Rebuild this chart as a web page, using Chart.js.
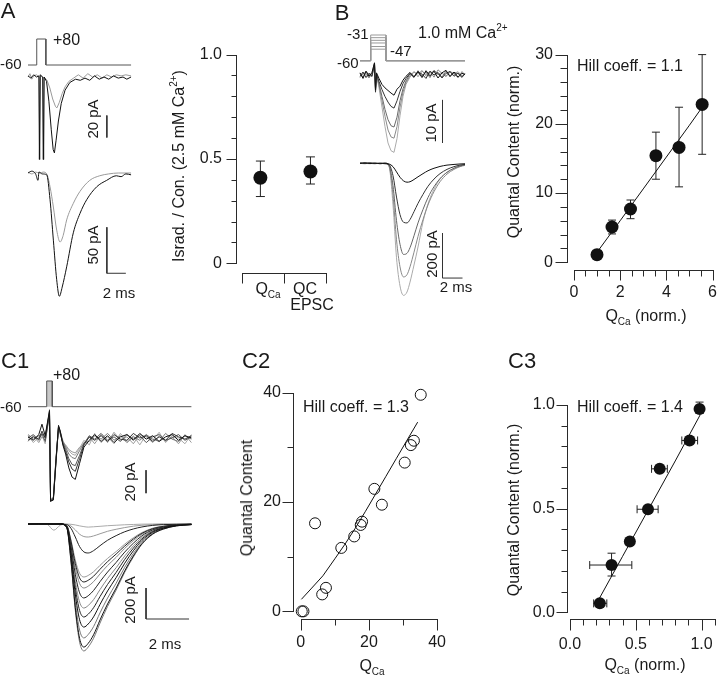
<!DOCTYPE html>
<html lang="en">
<head>
<meta charset="utf-8">
<title>Quantal content vs Ca charge</title>
<script src="https://cdn.jsdelivr.net/npm/chart.js@4.4.1/dist/chart.umd.min.js"></script>
<style>
  html, body { margin: 0; padding: 0; background: #fff; }
  #fig { position: relative; width: 720px; height: 676px; overflow: hidden; background: #fff;
         font-family: 'Liberation Sans', Arial, Helvetica, sans-serif; color: #1a1a1a; }
  #fig canvas { position: absolute; }
  .t { position: absolute; white-space: nowrap; line-height: 1; font-size: 16px; }
  .c { transform: translate(-50%, -50%); }
  .l { transform: translate(0, -50%); }
  .r { transform: translate(-50%, -50%) rotate(-90deg); }
  .s15 { font-size: 15px; }
  .big { font-size: 22px; }
  .sub { font-size: 10px; position: relative; top: 4px; }
  .sup { font-size: 10px; position: relative; top: -7px; }
</style>
</head>
<body>
<div id="fig">
  <canvas id="cAtr" width="150" height="310" style="left:0;top:0"></canvas>
  <canvas id="cAsc" width="145" height="280" style="left:190px;top:30px"></canvas>
  <canvas id="cBtr" width="115" height="310" style="left:355px;top:0"></canvas>
  <canvas id="cBsc" width="210" height="280" style="left:520px;top:30px"></canvas>
  <canvas id="cC1" width="175" height="305" style="left:20px;top:355px"></canvas>
  <canvas id="cC2" width="210" height="290" style="left:250px;top:370px"></canvas>
  <canvas id="cC3" width="210" height="290" style="left:520px;top:370px"></canvas>

  <!-- panel letters -->
  <div class="t c big" style="left:8px;top:11px">A</div>
  <div class="t c big" style="left:342px;top:13px">B</div>
  <div class="t l big" style="left:1px;top:361px">C1</div>
  <div class="t l big" style="left:242px;top:361px">C2</div>
  <div class="t l big" style="left:508px;top:361px">C3</div>

  <!-- A traces -->
  <div class="t l" style="left:53px;top:40px">+80</div>
  <div class="t l s15" style="left:0;top:63px">-60</div>
  <div class="t r s15" style="left:92px;top:119px">20 pA</div>
  <div class="t r s15" style="left:92px;top:245px">50 pA</div>
  <div class="t c s15" style="left:119px;top:292px">2 ms</div>

  <!-- A scatter -->
  <div class="t r" style="left:179px;top:166px">Israd. / Con. (2.5 mM Ca<span class="sup">2+</span>)</div>
  <div class="t c" style="left:268px;top:289px">Q<span class="sub">Ca</span></div>
  <div class="t c" style="left:305px;top:289px">QC</div>
  <div class="t c" style="left:312px;top:305px">EPSC</div>

  <!-- B traces -->
  <div class="t l s15" style="left:347px;top:33px">-31</div>
  <div class="t l s15" style="left:337px;top:62px">-60</div>
  <div class="t l s15" style="left:390px;top:50px">-47</div>
  <div class="t l" style="left:418px;top:33px">1.0 mM Ca<span class="sup">2+</span></div>
  <div class="t r s15" style="left:430px;top:123px">10 pA</div>
  <div class="t r s15" style="left:431px;top:254px">200 pA</div>
  <div class="t c s15" style="left:456px;top:286px">2 ms</div>

  <!-- B scatter -->
  <div class="t l" style="left:577px;top:66px">Hill coeff. = 1.1</div>
  <div class="t r" style="left:514px;top:152px">Quantal Content (norm.)</div>
  <div class="t c" style="left:646px;top:316px">Q<span class="sub">Ca</span> (norm.)</div>

  <!-- C1 -->
  <div class="t l" style="left:53px;top:375px">+80</div>
  <div class="t l s15" style="left:0;top:406px">-60</div>
  <div class="t r s15" style="left:129px;top:482px">20 pA</div>
  <div class="t r s15" style="left:129px;top:600px">200 pA</div>
  <div class="t c s15" style="left:165px;top:643px">2 ms</div>

  <!-- C2 -->
  <div class="t l" style="left:303px;top:407px">Hill coeff. = 1.3</div>
  <div class="t r" style="left:247px;top:498px">Quantal Content</div>
  <div class="t c" style="left:372px;top:666px">Q<span class="sub">Ca</span></div>

  <!-- C3 -->
  <div class="t l" style="left:577px;top:407px">Hill coeff. = 1.4</div>
  <div class="t r" style="left:514px;top:510px">Quantal Content (norm.)</div>
  <div class="t c" style="left:645px;top:665px">Q<span class="sub">Ca</span> (norm.)</div>
</div>

<script>
// ======================= DATA =======================
// ---- Panel A: voltage step (mV) and traces (pA) vs time (ms)
const protA_t  = [0, 0.92, 0.92, 1.88, 1.88, 10.85];
const protA_mV = [-60, -60, 80, 80, -60, -60];

const caA_black_t = [0,0.3,0.6,0.9,1.15,1.2,1.28,1.55,1.62,1.7,1.95,2.2,2.45,2.65,2.78,2.95,3.2,3.5,3.9,4.4,5.0,5.5,6.0,6.5,7.0,7.5,8.0,8.5,9.0,9.5,10.0,10.4,10.85];
const caA_black   = [1,-1,2,0,1,-75,2,0,-75,0,-4,-22,-48,-66,-69,-58,-40,-24,-12,-5,-2,-3,-1,-3,1,-2,0,-2,1,-1,0,-2,0];
const caA_gray_t  = [0,0.2,0.4,0.6,0.9,1.15,1.25,1.32,1.55,1.6,1.68,2.0,2.3,2.6,2.9,3.05,3.3,3.6,3.9,4.3,4.8,5.3,5.8,6.3,6.8,7.3,7.8,8.3,8.8,9.3,9.8,10.3,10.85];
const caA_gray    = [0,3,-2,1,2,0,-75,1,0,-75,0,-3,-10,-20,-27,-28,-23,-15,-9,-4,-1,2,-1,3,0,2,-1,2,0,2,1,2,1];

const epA_black_t = [0,0.4,0.8,1.05,1.15,1.5,1.97,2.32,2.67,3.02,3.3,3.6,4.07,4.77,5.47,6.18,7.23,8.28,9.3,9.8,10.3,10.85];
const epA_black   = [0,2,-1,-8,1,-1,-2,-29,-73,-116,-134,-124,-102,-65,-44,-29,-15,-8,-3,-4,-1,-2];
const epA_gray_t  = [0,0.4,0.8,1.2,1.6,1.97,2.32,2.67,3.02,3.37,3.7,4.07,4.77,5.47,6.5,7.55,8.5,9.5,10.85];
const epA_gray    = [1,-1,1,0,1,-1,-15,-37,-62,-75,-68,-51,-33,-20,-8,-3,-1,0,0];

// scale bars (pA / ms)
const barA = { t: 8.3, caTop: -35, ca: 20, epTop: -59, ep: 50, ms: 2 };

// ---- Panel A scatter: Isradipine / control ratio
const catsA      = ['QCa', 'QC EPSC'];
const catPosA    = [0.44, 1.63];
const ratioA     = [0.41, 0.44];
const ratioA_lo  = [0.32, 0.38];
const ratioA_hi  = [0.49, 0.51];
const yTicksA    = [0, 0.5, 1.0];
const yLabelsA   = ['0', '0.5', '1.0'];

// ---- Panel B: steps to -31 ... -47 mV in 1.0 mM Ca
const protB_t      = [0, 1.07, 1.07, 2.6, 2.6, 10.5];
const protB_levels = [-31, -34, -37, -40, -44, -47];

const caB_t = [0,0.3,0.6,0.9,1.2,1.45,1.55,1.65,1.9,2.2,2.5,2.8,3.1,3.4,3.7,4.0,4.3,4.6,5.0,5.4,5.8,6.2,6.6,7.0,7.4,7.8,8.2,8.6,9.0,9.4,9.8,10.2,10.5];
const caB_1 = [0.5,-0.8,0.9,-0.3,0.6,2.8,-3.5,0.5,-0.8,-2.2,-3.0,-3.6,-4.2,-4.7,-3.3,-2.6,-1.2,-0.3,0.6,-0.4,0.8,-0.6,1.0,-0.2,0.9,-0.7,0.5,1.1,-0.4,0.7,-0.5,0.4,0.1];
const caB_2 = [-0.3,0.7,-0.6,0.4,-0.2,2.5,-4.0,0.2,-1.5,-3.4,-5.0,-6.3,-7.3,-7.7,-6.0,-3.8,-2.0,-0.8,0.4,-0.5,0.7,0.2,-0.8,0.9,0.0,0.6,-0.7,0.4,0.8,-0.3,0.5,-0.4,0.2];
const caB_3 = [0.4,-0.5,0.8,0.1,-0.4,2.6,-3.8,0.0,-2.0,-5.0,-8.0,-10.4,-11.8,-12.1,-9.8,-6.0,-3.2,-1.4,0.3,-0.6,1.0,-0.3,0.7,-0.6,1.1,0.2,-0.5,0.9,-0.2,0.6,0.3,-0.6,0.4];
const caB_4 = [-0.6,0.3,0.2,-0.7,0.5,2.9,-3.2,-0.2,-2.4,-6.0,-9.6,-12.8,-14.4,-14.7,-12.0,-7.5,-4.0,-1.8,-0.2,0.8,-0.4,0.9,0.1,0.8,-0.5,1.2,0.4,-0.3,0.9,0.2,-0.6,0.8,0.0];
const caB_5 = [-0.2,0.4,0.6,-0.5,0.3,2.7,-3.0,0.1,-3.0,-7.5,-12.0,-15.8,-17.6,-18.0,-14.8,-9.5,-5.0,-2.2,-0.5,0.7,0.2,1.1,-0.3,0.5,0.9,0.1,0.6,-0.4,0.7,0.3,0.8,-0.2,0.3];

const epB_t = [0,0.5,1.0,1.5,2.0,2.5,2.9,3.3,3.65,4.0,4.35,4.7,5.0,5.4,5.8,6.3,6.8,7.4,8.0,8.7,9.4,10.0,10.5];
const epB_1 = [0,2,-1,1,-2,0,-3,-15,-38,-62,-78,-84,-82,-72,-60,-46,-33,-22,-14,-8,-5,-3,-2];
const epB_2 = [1,-1,2,-1,0,-2,-6,-55,-150,-228,-262,-265,-250,-215,-178,-138,-102,-70,-46,-27,-15,-8,-5];
const epB_3 = [-1,2,0,-2,1,0,-9,-100,-255,-360,-405,-400,-375,-322,-265,-205,-152,-104,-68,-40,-22,-12,-7];
const epB_4 = [0,-2,1,0,-1,2,-12,-140,-340,-460,-505,-495,-460,-395,-325,-250,-185,-126,-82,-48,-27,-15,-9];
const epB_5 = [1,0,-2,1,0,-1,-15,-185,-420,-545,-587,-572,-528,-452,-372,-260,-180,-115,-70,-40,-22,-12,-6];

const barB = { t: 8.25, caTop: -5.8, ca: 10, epTop: -310, ep: 200, ms: 2 };

// ---- Panel B scatter
const qcaB    = [1.0, 1.65, 2.45, 3.55, 4.55, 5.55];
const qcB     = [1.1, 5.1, 7.7, 15.4, 16.6, 22.8];
const qcB_lo  = [0.8, 4.1, 6.3, 12.0, 10.9, 15.6];
const qcB_hi  = [1.4, 6.1, 9.0, 18.8, 22.4, 30.0];
const fitB_x  = [0.99, 2.0, 3.0, 4.0, 5.0, 5.53];
const fitB_y  = [1.4, 6.0, 10.6, 15.2, 19.8, 22.3];
const xTicksB = [0, 2, 4, 6],   xLabelsB = ['0', '2', '4', '6'];
const yTicksB = [0, 10, 20, 30], yLabelsB = ['0', '10', '20', '30'];

// ---- Panel C1
const protC_t  = [0, 0.87, 0.87, 1.13, 1.13, 7.6];
const protC_mV = [-60, -60, 80, 80, -60, -60];

const caC_t = [0,0.25,0.5,0.65,0.8,1.0,1.05,1.18,1.3,1.42,1.5,1.62,1.75,1.9,2.05,2.2,2.4,2.6,2.85,3.1,3.4,3.7,4.0,4.3,4.6,4.9,5.2,5.5,5.8,6.1,6.4,6.7,7.0,7.3,7.6];
const caC_1 = [1,-2,3,12,2,24,-55,-54,-20,11,6,-6,-14,-26,-34,-36,-22,-8,-2,3,-3,2,-4,1,3,-2,4,-1,2,-3,1,3,-2,2,0];
const caC_2 = [-2,1,-1,6,0,22,-55,-53,-22,10,5,-5,-12,-21,-27,-29,-18,-6,1,-2,2,-3,3,-1,-2,4,0,2,-3,1,-2,4,1,-1,2];
const caC_3 = [0,3,-2,4,-3,20,-54,-52,-18,9,4,-4,-10,-18,-23,-24,-15,-5,2,-1,4,-2,1,-3,3,-1,2,-4,1,3,-2,0,3,-2,1];
const caC_4 = [3,-1,2,3,1,23,-55,-53,-21,10,5,-3,-8,-14,-17,-18,-11,-4,-3,2,-1,4,-2,2,-4,1,-2,3,-1,-3,4,-1,-3,2,-1];
const caC_5 = [-3,2,-4,1,-2,21,-54,-51,-19,9,3,-4,-6,-10,-12,-13,-8,-6,1,-5,3,-4,5,-2,1,-5,3,1,-4,2,-3,1,-5,3,-4];
const caC_6 = [2,-4,1,2,-5,25,-55,-52,-20,10,6,-2,-7,-11,-14,-15,-9,-2,-6,4,-4,1,-5,4,-3,2,-6,3,-2,5,-4,2,0,-5,3];

const epC_t  = [0,0.5,0.9,1.2,1.5,1.8,2.0,2.2,2.4,2.6,2.8,3.05,3.35,3.7,4.1,4.5,4.9,5.3,5.8,6.3,6.9,7.6];
const epC_1  = [0,2,-3,-40,-8,0,-2,-6,-12,-17,-20,-18,-15,-11,-8,-5,-3,-1,0,1,-1,0];
const epC_2  = [1,-2,2,-1,0,-2,-13,-38,-66,-81,-84,-77,-63,-47,-34,-23,-14,-8,-4,-2,-1,0];
const epC_3  = [0,1,-2,2,-1,-4,-28,-84,-146,-180,-187,-172,-140,-105,-75,-50,-32,-19,-9,-4,-2,0];
const epC_4  = [-2,1,0,2,-1,-10,-103,-233,-318,-342,-332,-308,-267,-222,-178,-130,-89,-55,-27,-14,-5,-2];
const epC_5  = [1,-1,2,0,-2,-11,-112,-254,-348,-374,-363,-337,-292,-243,-194,-142,-97,-60,-30,-15,-6,-2];
const epC_6  = [0,2,-1,1,0,-12,-124,-281,-384,-413,-401,-372,-322,-268,-215,-157,-107,-66,-33,-17,-6,-2];
const epC_7  = [-1,0,1,-2,1,-14,-143,-324,-444,-477,-463,-429,-372,-310,-248,-181,-124,-76,-38,-19,-7,-2];
const epC_8  = [2,-1,0,1,-1,-16,-163,-369,-504,-542,-526,-488,-423,-352,-282,-206,-141,-87,-43,-22,-8,-3];
const epC_9  = [0,1,-2,0,2,-18,-180,-408,-558,-600,-582,-540,-468,-390,-312,-228,-156,-96,-48,-24,-9,-3];
const epC_10 = [-1,2,0,-1,0,-20,-200,-452,-618,-665,-645,-599,-519,-432,-346,-253,-173,-106,-53,-27,-10,-3];
const epC_11 = [1,0,-1,2,-1,-22,-221,-500,-684,-735,-713,-662,-573,-478,-382,-279,-191,-118,-59,-29,-11,-4];
const epC_12 = [0,-1,2,0,1,-24,-238,-540,-738,-794,-770,-715,-619,-516,-413,-302,-206,-127,-64,-32,-12,-4];
const epC_13 = [-1,1,0,-2,0,-25,-246,-557,-762,-819,-794,-737,-639,-532,-426,-311,-213,-131,-66,-33,-12,-4];

const barC1 = { t: 5.49, caTop: -28, ca: 20, epTop: -413, ep: 200, ms: 2 };

// ---- Panel C2 scatter (individual cells)
const qcaC2 = [0.3, 0.8, 4.2, 6.3, 7.4, 11.9, 15.7, 17.6, 18.0, 21.6, 23.8, 30.5, 32.3, 33.2, 35.2];
const qcC2  = [0, 0, 16.1, 3.1, 4.3, 11.6, 13.7, 15.8, 16.4, 22.4, 19.5, 27.2, 30.4, 31.2, 39.6];
const fitC2_x = [0.2, 3, 6.5, 10, 13, 16, 19, 22, 25, 28, 31, 34.3];
const fitC2_y = [2.2, 4.1, 6.5, 9.6, 12.3, 15.2, 18.3, 21.5, 24.7, 27.9, 31.1, 34.6];
const xTicksC2 = [0, 20, 40], xLabelsC2 = ['0', '20', '40'];
const yTicksC2 = [0, 20, 40], yLabelsC2 = ['0', '20', '40'];

// ---- Panel C3 scatter (normalized, mean +/- SEM)
const qcaC3    = [0.227, 0.316, 0.455, 0.593, 0.682, 0.909, 0.985];
const qcC3     = [0.043, 0.228, 0.341, 0.497, 0.692, 0.829, 0.981];
const qcaC3_lo = [0.18, 0.15, null, 0.51, 0.62, 0.85, null];
const qcaC3_hi = [0.28, 0.47, null, 0.67, 0.74, 0.97, null];
const qcC3_lo  = [null, 0.175, null, null, null, null, 0.96];
const qcC3_hi  = [null, 0.285, null, null, null, null, 1.014];
const fitC3_x  = [0.22, 0.4, 0.6, 0.8, 0.99];
const fitC3_y  = [0.063, 0.27, 0.50, 0.73, 0.953];
const xTicksC3 = [0, 0.5, 1.0], xLabelsC3 = ['0.0', '0.5', '1.0'];
const yTicksC3 = [0, 0.5, 1.0], yLabelsC3 = ['0.0', '0.5', '1.0'];

// ======================= HELPERS =======================
const FONT = "'Liberation Sans', Arial, Helvetica, sans-serif";
Chart.defaults.font.family = FONT;
Chart.defaults.color = '#1a1a1a';

const xy = (t, v) => t.map((tt, i) => ({ x: tt, y: v[i] }));
function steps(a, b, step) { const o = []; for (let k = 0; a + k * step <= b + 1e-9; k++) o.push(+(a + k * step).toFixed(6)); return o; }

// calibration of hidden axes: value v0 sits at pixel p0 of the canvas, ppu pixels per unit
function calY(v0, p0, ppu, size) { return { min: v0 - (size - p0) / ppu, max: v0 + p0 / ppu }; }
function calX(p0, ppu, size) { const min = -p0 / ppu; return { min, max: min + size / ppu }; }

function tr(t, v, color, axis, smooth, extra) {
  return Object.assign({
    data: xy(t, v), borderColor: color, borderWidth: 1, yAxisID: axis,
    pointRadius: 0, tension: 0, fill: false,
    cubicInterpolationMode: smooth ? 'monotone' : 'default'
  }, extra || {});
}
function bars(b, col) {
  return [
    tr([b.t, b.t], [b.caTop, b.caTop - b.ca], col, 'yC', false),
    tr([b.t, b.t, b.t + b.ms], [b.epTop, b.epTop - b.ep, b.epTop - b.ep], col, 'yE', false)
  ];
}

function traceChart(id, cal, datasets) {
  const el = document.getElementById(id);
  const W = el.width, H = el.height;
  const scales = { x: Object.assign({ type: 'linear', display: false }, calX(cal.x[0], cal.x[1], W)) };
  ['yP', 'yC', 'yE'].forEach(k => {
    scales[k] = Object.assign({ type: 'linear', axis: 'y', display: false }, calY(cal[k][0], cal[k][1], cal[k][2], H));
  });
  return new Chart(el, {
    type: 'line',
    data: { datasets },
    options: {
      responsive: false, animation: false, devicePixelRatio: 1, events: [],
      layout: { padding: 0 },
      plugins: { legend: { display: false }, tooltip: { enabled: false } },
      elements: { point: { radius: 0 } },
      scales
    }
  });
}

// Igor-style detached axes: line over data range, major + minor ticks outward
const igorAxes = {
  id: 'igorAxes',
  beforeDatasetsDraw(chart, args, opts) {
    const ctx = chart.ctx, ca = chart.chartArea;
    ctx.save();
    ctx.strokeStyle = '#2a2a2a';
    ctx.lineWidth = 1;
    ['x', 'y'].forEach(key => {
      const a = opts[key]; if (!a) return;
      const s = chart.scales[key];
      const horiz = key === 'x';
      const base = horiz ? Math.round(ca.bottom) + 0.5 : Math.round(ca.left) - 0.5;
      const P = v => Math.round(s.getPixelForValue(v)) + 0.5;
      ctx.beginPath();
      if (horiz) { ctx.moveTo(P(a.line[0]) - 0.5, base); ctx.lineTo(P(a.line[1]) + 0.5, base); }
      else { ctx.moveTo(base, P(a.line[0]) + 0.5); ctx.lineTo(base, P(a.line[1]) - 0.5); }
      const tick = (v, len) => {
        const p = P(v);
        if (horiz) { ctx.moveTo(p, base); ctx.lineTo(p, base + len); }
        else { ctx.moveTo(base, p); ctx.lineTo(base - len, p); }
      };
      const minor = a.minorStep ? steps(a.line[0], a.line[1], a.minorStep) : (a.minor || []);
      minor.forEach(v => tick(v, a.minorLen));
      (a.major || []).forEach(v => tick(v, a.majorLen));
      ctx.stroke();
    });
    ctx.restore();
  }
};

const errorBars = {
  id: 'errorBars',
  beforeDatasetsDraw(chart, args, opts) {
    const ctx = chart.ctx, xs = chart.scales.x, ys = chart.scales.y, c = opts.cap || 4;
    ctx.save(); ctx.strokeStyle = '#222'; ctx.lineWidth = 1;
    chart.data.datasets.forEach(ds => {
      const e = ds.errors; if (!e) return;
      ds.data.forEach((d, i) => {
        const px = xs.getPixelForValue(d.x), py = ys.getPixelForValue(d.y);
        ctx.beginPath();
        if (e.yLo && e.yLo[i] != null) {
          const a = ys.getPixelForValue(e.yLo[i]), b = ys.getPixelForValue(e.yHi[i]);
          ctx.moveTo(px, a); ctx.lineTo(px, b);
          ctx.moveTo(px - c, a); ctx.lineTo(px + c, a);
          ctx.moveTo(px - c, b); ctx.lineTo(px + c, b);
        }
        if (e.xLo && e.xLo[i] != null) {
          const a = xs.getPixelForValue(e.xLo[i]), b = xs.getPixelForValue(e.xHi[i]);
          ctx.moveTo(a, py); ctx.lineTo(b, py);
          ctx.moveTo(a, py - c); ctx.lineTo(a, py + c);
          ctx.moveTo(b, py - c); ctx.lineTo(b, py + c);
        }
        ctx.stroke();
      });
    });
    ctx.restore();
  }
};

function mkScale(s) {
  return {
    type: 'linear', min: s.min, max: s.max, display: s.show !== false,
    grid: { display: false, drawTicks: false }, border: { display: false },
    ticks: {
      autoSkip: false, maxRotation: 0, padding: s.pad || 0,
      font: { family: FONT, size: 16 }, color: '#1a1a1a',
      callback: (v, i) => (s.labels ? s.labels[i] : '')
    },
    afterBuildTicks: sc => { sc.ticks = (s.vals || []).map(v => ({ value: v })); },
    afterFit: sc => { if (sc.isHorizontal()) sc.height = s.size; else sc.width = s.size; }
  };
}

function scatterChart(id, o) {
  return new Chart(document.getElementById(id), {
    type: 'scatter',
    data: { datasets: o.datasets },
    options: {
      responsive: false, animation: false, devicePixelRatio: 1, events: [],
      layout: { padding: o.pad },
      plugins: { legend: { display: false }, tooltip: { enabled: false }, igorAxes: o.axes, errorBars: { cap: o.cap } },
      scales: { x: mkScale(o.x), y: mkScale(o.y) }
    },
    plugins: [igorAxes, errorBars]
  });
}
const dot = (r) => ({ pointRadius: r, backgroundColor: '#111', borderColor: '#111', borderWidth: 0, clip: false, order: 0 });
const fitLine = (x, y) => ({ data: xy(x, y), showLine: true, pointRadius: 0, borderColor: '#111', borderWidth: 1, order: 1, clip: false });

// ======================= PANEL A =======================
traceChart('cAtr', { x: [28, 9.5], yP: [-60, 65, 26 / 140], yC: [0, 77, 1.1], yE: [0, 173, 0.92] }, [
  ...bars(barA, '#333'),
  tr(caA_black_t, caA_black, '#111', 'yC', false),
  tr(caA_gray_t, caA_gray, '#9a9a9a', 'yC', false),
  tr(epA_black_t, epA_black, '#111', 'yE', true),
  tr(epA_gray_t, epA_gray, '#9a9a9a', 'yE', true),
  tr(protA_t, protA_mV, '#555', 'yP', false)
]);

scatterChart('cAsc', {
  pad: { left: 0, top: 17, right: 5, bottom: 37 },
  cap: 4.5,
  x: { min: -0.116, max: 2.047, show: false, size: 0 },
  y: { min: -0.0463, max: 1.0, vals: yTicksA, labels: yLabelsA, pad: 15, size: 47 },
  axes: {
    x: { line: [0, 2], major: [0, 1, 2], majorLen: 10 },
    y: { line: [0, 1], major: yTicksA, majorLen: 10, minorStep: 0.1, minorLen: 5 }
  },
  datasets: [Object.assign({ label: catsA.join(' / '), data: xy(catPosA, ratioA), errors: { yLo: ratioA_lo, yHi: ratioA_hi } }, dot(7))]
});

// ======================= PANEL B =======================
const protB_sets = protB_levels.map(L => tr(protB_t, [-60, -60, L, L, -60, -60], '#999', 'yP', false));
traceChart('cBtr', { x: [5, 10], yP: [-60, 60.7, 0.886], yC: [0, 75, 4.3], yE: [0, 163.3, 0.225] }, [
  ...bars(barB, '#333'),
  tr(caB_t, caB_1, '#111', 'yC', false),
  tr(caB_t, caB_2, '#333', 'yC', false),
  tr(caB_t, caB_3, '#6a6a6a', 'yC', false),
  tr(caB_t, caB_4, '#8a8a8a', 'yC', false),
  tr(caB_t, caB_5, '#ababab', 'yC', false),
  tr(epB_t, epB_1, '#111', 'yE', true),
  tr(epB_t, epB_2, '#333', 'yE', true),
  tr(epB_t, epB_3, '#666', 'yE', true),
  tr(epB_t, epB_4, '#888', 'yE', true),
  tr(epB_t, epB_5, '#aaa', 'yE', true),
  ...protB_sets
]);

scatterChart('cBsc', {
  pad: { left: 0, top: 16, right: 15, bottom: 0 },
  cap: 4,
  x: { min: -0.255, max: 6, vals: xTicksB, labels: xLabelsB, pad: 13, size: 40 },
  y: { min: -1.11, max: 30, vals: yTicksB, labels: yLabelsB, pad: 15, size: 48 },
  axes: {
    x: { line: [0, 6], major: xTicksB, majorLen: 10, minorStep: 0.5, minorLen: 6 },
    y: { line: [0, 30], major: yTicksB, majorLen: 12, minorStep: 2, minorLen: 7 }
  },
  datasets: [
    Object.assign({ data: xy(qcaB, qcB), errors: { yLo: qcB_lo, yHi: qcB_hi } }, dot(6.5)),
    fitLine(fitB_x, fitB_y)
  ]
});

// ======================= PANEL C1 =======================
traceChart('cC1', { x: [8, 21.5], yP: [-60, 51.7, 0.1836], yC: [0, 83, 1.15], yE: [0, 169, 0.155] }, [
  ...bars(barC1, '#333'),
  tr(caC_t, caC_1, '#111', 'yC', false),
  tr(caC_t, caC_2, '#333', 'yC', false),
  tr(caC_t, caC_3, '#555', 'yC', false),
  tr(caC_t, caC_4, '#777', 'yC', false),
  tr(caC_t, caC_5, '#999', 'yC', false),
  tr(caC_t, caC_6, '#aaa', 'yC', false),
  tr(epC_t, epC_12, '#111', 'yE', true),
  tr(epC_t, epC_10, '#111', 'yE', true),
  tr(epC_t, epC_9, '#222', 'yE', true),
  tr(epC_t, epC_7, '#222', 'yE', true),
  tr(epC_t, epC_5, '#222', 'yE', true),
  tr(epC_t, epC_3, '#222', 'yE', true),
  tr(epC_t, epC_13, '#777', 'yE', true),
  tr(epC_t, epC_11, '#777', 'yE', true),
  tr(epC_t, epC_8, '#888', 'yE', true),
  tr(epC_t, epC_6, '#888', 'yE', true),
  tr(epC_t, epC_4, '#999', 'yE', true),
  tr(epC_t, epC_2, '#999', 'yE', true),
  tr(epC_t, epC_1, '#aaa', 'yE', true),
  tr(protC_t, protC_mV, '#555', 'yP', false, { fill: { value: -60 }, backgroundColor: '#c8c8c8' })
]);

// ======================= PANEL C2 =======================
scatterChart('cC2', {
  pad: { left: 0, top: 13, right: 17, bottom: 0 },
  cap: 4,
  x: { min: -1.97, max: 40, vals: xTicksC2, labels: xLabelsC2, pad: 14, size: 41 },
  y: { min: -1.40, max: 40, vals: yTicksC2, labels: yLabelsC2, pad: 13, size: 44 },
  axes: {
    x: { line: [0, 40], major: xTicksC2, majorLen: 11, minor: [10, 30], minorLen: 6 },
    y: { line: [0, 40], major: yTicksC2, majorLen: 11, minor: [10, 30], minorLen: 6 }
  },
  datasets: [
    { data: xy(qcaC2, qcC2), pointRadius: 5.5, pointBorderWidth: 1, borderColor: '#111', backgroundColor: 'rgba(0,0,0,0)', clip: false, order: 0 },
    fitLine(fitC2_x, fitC2_y)
  ]
});

// ======================= PANEL C3 =======================
scatterChart('cC3', {
  pad: { left: 0, top: 35, right: 14.8, bottom: 0 },
  cap: 4,
  x: { min: -0.015, max: 1.1, vals: xTicksC3, labels: xLabelsC3, pad: 16, size: 41.3 },
  y: { min: -0.031, max: 1.0, vals: yTicksC3, labels: yLabelsC3, pad: 13, size: 48 },
  axes: {
    x: { line: [0, 1.1], major: xTicksC3, majorLen: 11, minorStep: 0.1, minorLen: 6 },
    y: { line: [0, 1.0], major: yTicksC3, majorLen: 11, minorStep: 0.1, minorLen: 6 }
  },
  datasets: [
    Object.assign({ data: xy(qcaC3, qcC3), errors: { xLo: qcaC3_lo, xHi: qcaC3_hi, yLo: qcC3_lo, yHi: qcC3_hi } }, dot(6)),
    fitLine(fitC3_x, fitC3_y)
  ]
});
</script>
</body>
</html>
